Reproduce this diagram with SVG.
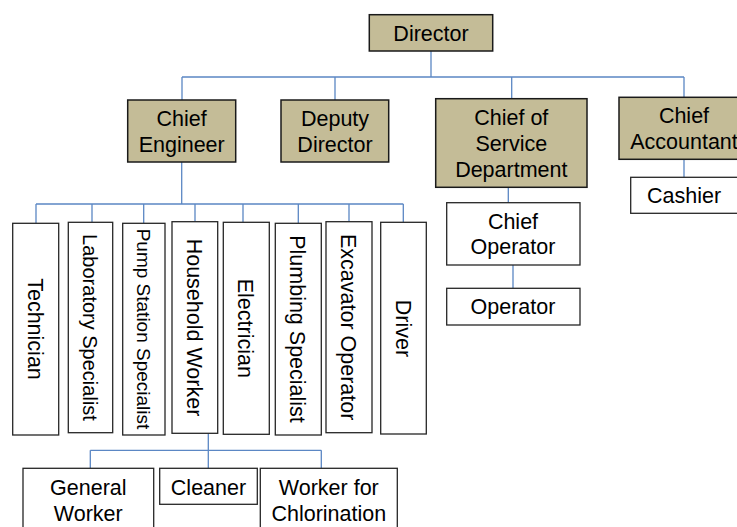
<svg xmlns="http://www.w3.org/2000/svg" width="737" height="527" viewBox="0 0 737 527">
  <style>
    .mgr { fill: #C4BC97; stroke: #1a1a1a; stroke-width: 1.5; }
    .box { fill: #ffffff; stroke: #262626; stroke-width: 1.3; }
    .t { font-family: "Liberation Sans", Arial, sans-serif; font-size: 21.5px; fill: #000; text-anchor: middle; }
    .sm { font-size: 20px; }
    .xs { font-size: 19px; }
    .link { fill: none; stroke: #5B87C4; stroke-width: 1.3; }
  </style>

  <!-- reporting lines -->
  <g id="connectors" class="link">
    <path d="M431 51 V77 M182 77 H684 M182 77 V100 M335 77 V100 M511.7 77 V98.7 M684 77 V97.3"/>
    <path d="M181.7 162 V204 M36 204 H403.3 M36 204 V223 M92 204 V222 M143.7 204 V223 M195 204 V221.7 M243 204 V222.3 M298.3 204 V223.3 M349 204 V221.7 M403.3 204 V222.3"/>
    <path d="M508.3 187.3 V202.7 M513 265 V288.3 M684 159.3 V177.3"/>
    <path d="M208.3 433.3 V468.3 M90.3 450.3 H321.3 M90.3 450.3 V468.3 M321.3 450.3 V468.3"/>
  </g>

  <!-- top level -->
  <g id="director">
    <rect class="mgr" x="369.3" y="14.7" width="123.4" height="36.3"/>
    <text class="t" x="431" y="41">Director</text>
  </g>

  <!-- second level -->
  <g id="chief-engineer">
    <rect class="mgr" x="127.7" y="100" width="108" height="62"/>
    <text class="t" x="181.7" y="125.7">Chief</text>
    <text class="t" x="181.7" y="151.5">Engineer</text>
  </g>
  <g id="deputy-director">
    <rect class="mgr" x="281" y="100" width="107.7" height="62"/>
    <text class="t" x="335" y="125.7">Deputy</text>
    <text class="t" x="335" y="151.5">Director</text>
  </g>
  <g id="chief-service">
    <rect class="mgr" x="435.7" y="98.7" width="151.3" height="88.6"/>
    <text class="t" x="511.3" y="125">Chief of</text>
    <text class="t" x="511.3" y="151">Service</text>
    <text class="t" x="511.3" y="176.7">Department</text>
  </g>
  <g id="chief-accountant">
    <rect class="mgr" x="619" y="97.3" width="131" height="62"/>
    <text class="t" x="684" y="123.3">Chief</text>
    <text class="t" x="684" y="149.3">Accountant</text>
  </g>

  <!-- accounting -->
  <g id="cashier">
    <rect class="box" x="630.7" y="177.3" width="120" height="36"/>
    <text class="t" x="684" y="203.3">Cashier</text>
  </g>

  <!-- service department -->
  <g id="chief-operator">
    <rect class="box" x="446.7" y="202.7" width="133.3" height="62.3"/>
    <text class="t" x="513" y="229">Chief</text>
    <text class="t" x="513" y="254">Operator</text>
  </g>
  <g id="operator">
    <rect class="box" x="446.7" y="288.3" width="133.3" height="36.7"/>
    <text class="t" x="513" y="314.3">Operator</text>
  </g>

  <!-- engineering staff (vertical labels) -->
  <g id="technician">
    <rect class="box" x="12.7" y="223.3" width="46" height="211.7"/>
    <text class="t" transform="translate(27.7 329) rotate(90)">Technician</text>
  </g>
  <g id="laboratory-specialist">
    <rect class="box" x="68.3" y="222.3" width="44.4" height="210.4"/>
    <text class="t sm" transform="translate(83 327.5) rotate(90)">Laboratory Specialist</text>
  </g>
  <g id="pump-station-specialist">
    <rect class="box" x="122.7" y="223.3" width="42.3" height="211.7"/>
    <text class="t xs" transform="translate(137 329) rotate(90)">Pump Station Specialist</text>
  </g>
  <g id="household-worker">
    <rect class="box" x="172" y="221.7" width="45.7" height="211.6"/>
    <text class="t" transform="translate(187 327.5) rotate(90)">Household Worker</text>
  </g>
  <g id="electrician">
    <rect class="box" x="223.3" y="222.3" width="46" height="212"/>
    <text class="t" transform="translate(238.3 328.3) rotate(90)">Electrician</text>
  </g>
  <g id="plumbing-specialist">
    <rect class="box" x="275.3" y="223.3" width="46" height="211.7"/>
    <text class="t" transform="translate(290.3 329) rotate(90)">Plumbing Specialist</text>
  </g>
  <g id="excavator-operator">
    <rect class="box" x="326" y="221.7" width="46" height="211"/>
    <text class="t" transform="translate(341 327.2) rotate(90)">Excavator Operator</text>
  </g>
  <g id="driver">
    <rect class="box" x="380.7" y="222.3" width="45.6" height="211.7"/>
    <text class="t" transform="translate(395.5 328.5) rotate(90)">Driver</text>
  </g>

  <!-- household staff -->
  <g id="general-worker">
    <rect class="box" x="23" y="468.3" width="130.7" height="75"/>
    <text class="t" x="88.3" y="495">General</text>
    <text class="t" x="88.3" y="521">Worker</text>
  </g>
  <g id="cleaner">
    <rect class="box" x="159.7" y="468.3" width="97.6" height="36"/>
    <text class="t" x="208.5" y="495">Cleaner</text>
  </g>
  <g id="worker-for-chlorination">
    <rect class="box" x="260.3" y="468.3" width="137" height="75"/>
    <text class="t" x="328.8" y="495">Worker for</text>
    <text class="t" x="328.8" y="521">Chlorination</text>
  </g>
</svg>
